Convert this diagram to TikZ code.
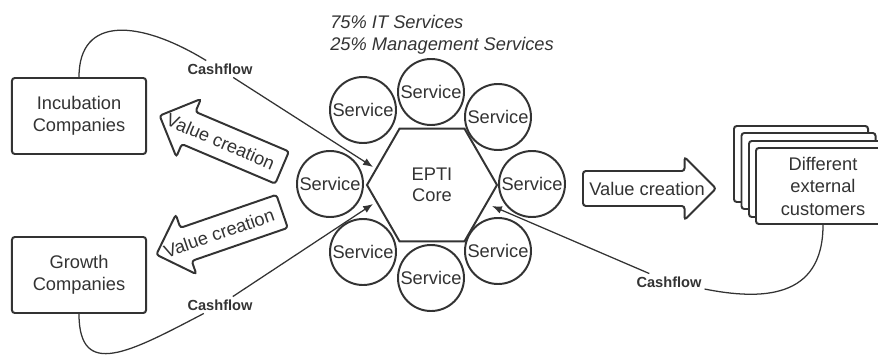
\documentclass[tikz,border=0pt]{standalone}
\usepackage{fontspec}
\setmainfont{Liberation Sans}
\usepackage{tikz}
\usetikzlibrary{shapes.geometric,shapes.arrows}
\usetikzlibrary{calc,arrows.meta}
\definecolor{ink}{HTML}{333333}

\begin{document}
\begin{tikzpicture}[x=0.025cm,y=-0.025cm,
  company/.style={draw=ink, line width=1.4pt, rounded corners=2pt, fill=white,
    minimum width=3.35cm, minimum height=1.9cm, align=center, text=ink,
    font=\fontsize{13}{16}\selectfont},
  service/.style={circle, draw=ink, line width=1.4pt, fill=white,
    minimum size=1.65cm, inner sep=0pt, text=ink, font=\fontsize{13}{16}\selectfont},
  core/.style={regular polygon, regular polygon sides=6, draw=ink, line width=1.4pt,
    minimum size=3.25cm, inner sep=0pt, align=center, text=ink,
    font=\fontsize{13}{15}\selectfont},
  valuearrow/.style={single arrow, draw=ink, line width=1.4pt, rounded corners=2pt,
    fill=white, minimum height=3.325cm, inner xsep=0pt, inner ysep=0.4125cm,
    single arrow head extend=0.35cm, anchor=tail},
  valuetext/.style={text=ink, inner sep=0pt, font=\fontsize{13}{16}\selectfont},
  cashlabel/.style={text=ink, inner sep=2pt, font=\fontsize{10.4}{12}\selectfont\bfseries},
  cashflow/.style={draw=ink, line width=0.9pt, -{Latex[length=7pt,width=5.5pt]}}]
\useasboundingbox (0,0) rectangle (878,354);

% header
\node[anchor=north west, inner sep=0pt, align=left, text=ink,
  font=\fontsize{13}{15.6}\selectfont\itshape] (share) at (330,15)
  {75\% IT Services\\25\% Management Services};

% companies
\node[company] (inc) at (79,116) {Incubation\\Companies};
\node[company] (grw) at (79,275) {Growth\\Companies};

% external customers (stacked)
\node[company] (cust3) at (801,164) {};
\node[company] (cust2) at (808.5,171) {};
\node[company] (cust1) at (816,179) {};
\node[company] (cust) at (823,186) {Different\\external\\customers};

% EPTI core and services
\node[core] (core) at (432,185) {EPTI\\Core};
\node[service] (s1) at (431,92) {Service};
\node[service] (s2) at (498,117) {Service};
\node[service] (s3) at (532,184) {Service};
\node[service] (s4) at (498,251) {Service};
\node[service] (s5) at (431,278) {Service};
\node[service] (s6) at (363,252) {Service};
\node[service] (s7) at (330,184) {Service};
\node[service] (s8) at (363,110) {Service};

% value creation arrows
\node[valuearrow, shape border rotate=180, rotate=-23] (vcInc) at (283,168) {};
\node[valuetext, rotate=-23] (vtInc) at ($(vcInc.tail)!0.5!(vcInc.tip)$) {Value creation};
\node[valuearrow, shape border rotate=180, rotate=19] (vcGrw) at (283,211) {};
\node[valuetext, rotate=19] (vtGrw) at ($(vcGrw.tail)!0.5!(vcGrw.tip)$) {Value creation};
\node[valuearrow] (vcCust) at (582,188.5) {};
\node[valuetext] (vtCust) at ($(vcCust.tail)!0.48!(vcCust.tip)$) {Value creation};

% cashflows
\node[cashlabel] (cfInc) at (220,69) {Cashflow};
\node[cashlabel] (cfGrw) at (220,305) {Cashflow};
\node[cashlabel] (cfCust) at (669,282) {Cashflow};
\coordinate (tipInc) at (373,167);
\coordinate (tipGrw) at (373,204);
\coordinate (tipCust) at (492,206);
\draw[cashflow] (inc.north) .. controls (79,15) and (140,20) .. (cfInc) -- (tipInc);
\draw[cashflow] (grw.south) .. controls (79,380) and (130,352) .. (cfGrw) -- (tipGrw);
\draw[cashflow] (cust.south) .. controls (823,300) and (760,300) .. (cfCust) -- (tipCust);
\end{tikzpicture}
\end{document}
